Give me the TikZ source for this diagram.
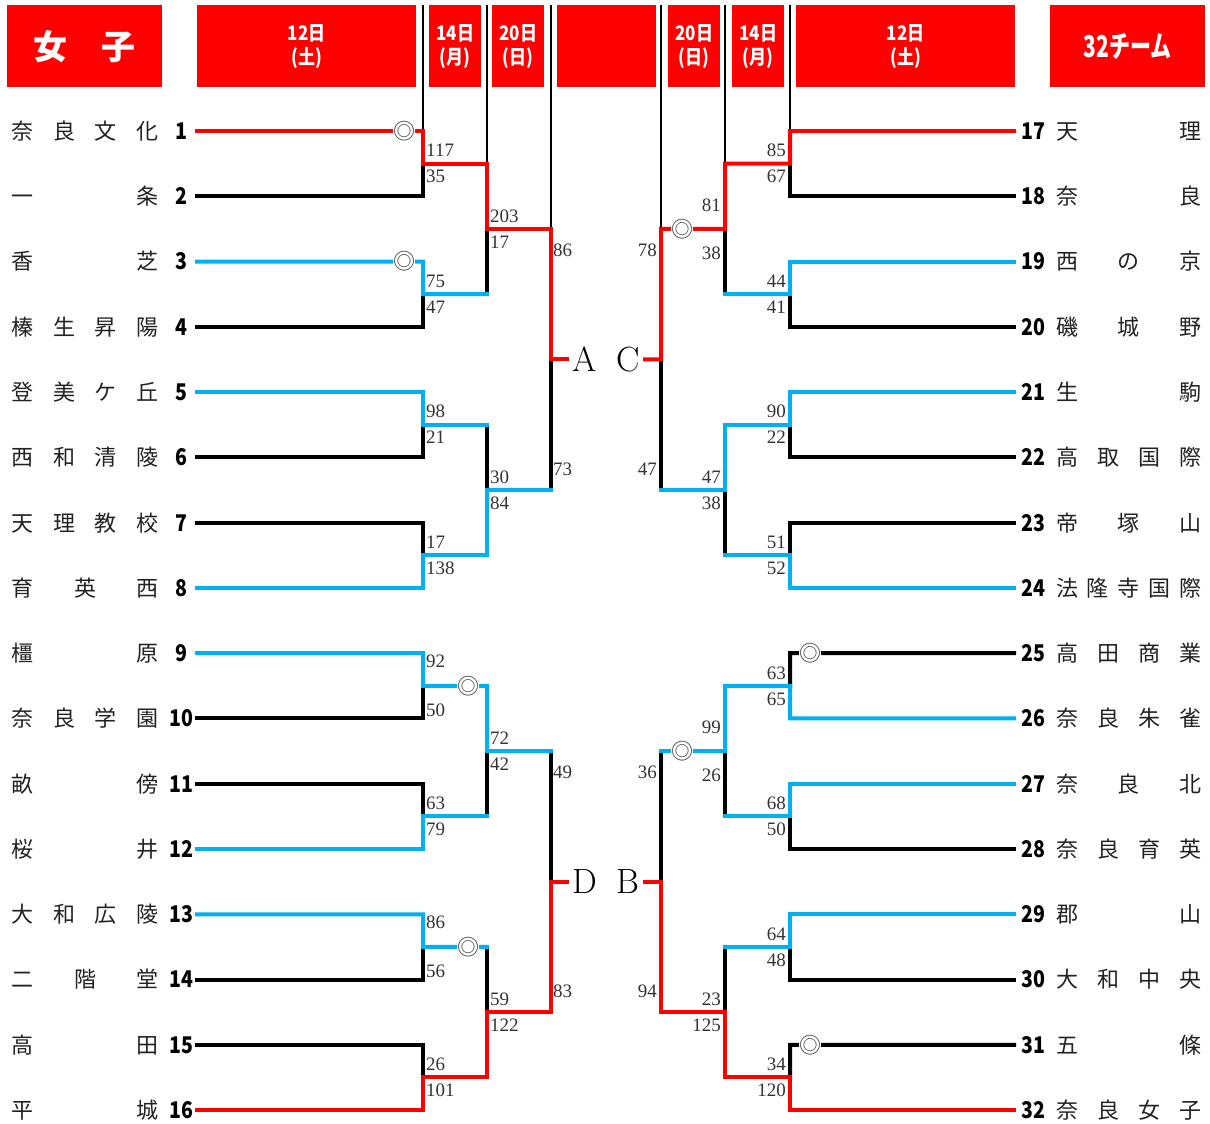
\documentclass[tikz,border=0pt]{standalone}
\usepackage{fontspec}
\newfontfamily\jp{Noto Sans CJK JP}
\newfontfamily\jpb[FakeStretch=0.85]{Noto Sans CJK JP}
\newfontfamily\jpc[FakeStretch=0.7]{Noto Sans CJK JP}
\newfontfamily\scf{Liberation Serif}
\definecolor{redc}{HTML}{FF0000}
\definecolor{cyanc}{HTML}{00B0F0}
\definecolor{scorec}{HTML}{333333}
\definecolor{markc}{HTML}{444444}
\definecolor{namec}{HTML}{222222}
\tikzset{
  br/.style={line width=4pt, line join=miter, line cap=rect},
  bk/.style={br, draw=black},
  cy/.style={br, draw=cyanc},
  rd/.style={br, draw=redc},
  thinln/.style={line width=1.1pt, draw=black},
  hdr/.style={fill=redc, draw=none, anchor=north west, inner sep=0pt, text=white, align=center},
  scL/.style={inner sep=0pt, anchor=west, font=\scf\fontsize{19}{19}\selectfont, text=scorec},
  scR/.style={inner sep=0pt, anchor=east, font=\scf\fontsize{19}{19}\selectfont, text=scorec},
  mk/.style={inner sep=0pt, minimum width=26pt, font=\jp\fontsize{22}{22}\selectfont, text=markc},
  nm/.style={inner sep=0pt, font=\jp\fontsize{22}{22}\selectfont, text=namec, anchor=base},
  num/.style={inner sep=0pt, font=\jpb\bfseries\fontsize{23}{23}\selectfont, anchor=base},
  big/.style={inner sep=0pt, font=\fontsize{35}{35}\selectfont},
}
\newcommand\tmL[3]{%
  \pgfmathsetmacro\yy{131+(#1-1)*65.27+8.4}
  \foreach \c [count=\k] in {#3}{
    \pgfmathsetmacro\xx{23+(\k-1)*124/(#2-1)}
    \node[nm] (nL#1c\k) at (\xx,\yy) {\c};
  }
  \node[num] (numL#1) at (181,\yy) {#1};
}
\newcommand\tmR[4]{%
  \pgfmathsetmacro\yy{131+(#2-1)*65.27+8.4}
  \foreach \c [count=\k] in {#4}{
    \pgfmathsetmacro\xx{1067+(\k-1)*123/(#3-1)}
    \node[nm] (nR#1c\k) at (\xx,\yy) {\c};
  }
  \node[num] (numR#1) at (1033.5,\yy) {#1};
}
\begin{document}
\begin{tikzpicture}[x=1pt,y=-1pt]
\useasboundingbox (0,0) rectangle (1210,1124);
% coordinates
\coordinate (top) at (0,5);
\foreach \i in {1,...,16} \coordinate (r\i) at (0,{131+(\i-1)*65.27});
\foreach \k in {1,...,8} \coordinate (m\k) at (0,{131+(2*\k-1.5)*65.27});
\foreach \k in {1,...,4} \coordinate (n\k) at (0,{131+(4*\k-2.5)*65.27});
\foreach \k in {1,2} \coordinate (p\k) at (0,{131+(8*\k-4.5)*65.27});
\coordinate (a0) at (197,0); \coordinate (a1) at (423,0); \coordinate (a2) at (487,0);
\coordinate (a3) at (551,0); \coordinate (a4) at (567,0);
\coordinate (b0) at (1014,0); \coordinate (b1) at (790,0); \coordinate (b2) at (725,0);
\coordinate (b3) at (661,0); \coordinate (b4) at (645,0);

% header
\node[hdr, minimum width=155pt, minimum height=82pt, font={\jp\bfseries\fontsize{34}{34}\selectfont}] (h1) at (7,5) {女　子};
\node[hdr, minimum width=219pt, minimum height=82pt, font={\jpb\bfseries\fontsize{20}{24}\selectfont}] (h2) at (197,5) {12日\\(土)};
\node[hdr, minimum width=52pt, minimum height=82pt, font={\jpb\bfseries\fontsize{20}{24}\selectfont}] (h3) at (429,5) {14日\\(月)};
\node[hdr, minimum width=52pt, minimum height=82pt, font={\jpb\bfseries\fontsize{20}{24}\selectfont}] (h4) at (492,5) {20日\\(日)};
\node[hdr, minimum width=99pt, minimum height=82pt] (h5) at (557,5) {};
\node[hdr, minimum width=52pt, minimum height=82pt, font={\jpb\bfseries\fontsize{20}{24}\selectfont}] (h6) at (668,5) {20日\\(日)};
\node[hdr, minimum width=52pt, minimum height=82pt, font={\jpb\bfseries\fontsize{20}{24}\selectfont}] (h7) at (732,5) {14日\\(月)};
\node[hdr, minimum width=219pt, minimum height=82pt, font={\jpb\bfseries\fontsize{20}{24}\selectfont}] (h8) at (796,5) {12日\\(土)};
\node[hdr, minimum width=155pt, minimum height=82pt, font={\jpc\bfseries\fontsize{30}{30}\selectfont}] (h9) at (1050,5) {32チーム};

% thin guide lines
\draw[thinln] (a1|-top) -- (a1|-r1);
\draw[thinln] (a2|-top) -- (a2|-m1);
\draw[thinln] (a3|-top) -- (a3|-n1);
\draw[thinln] (b3|-top) -- (b3|-n1);
\draw[thinln] (b2|-top) -- (b2|-m1);
\draw[thinln] (b1|-top) -- (b1|-r1);

% marks
\node[mk] (oL1) at (404,131) {◎};
\node[mk] (oL3) at (404,261.54) {◎};
\node[mk] (oL9) at (468,685.8) {◎};
\node[mk] (oL13) at (468,946.9) {◎};
\node[mk] (oR1) at (682,228.9) {◎};
\node[mk] (oR3) at (682,751.1) {◎};
\node[mk] (oR25) at (810,653.16) {◎};
\node[mk] (oR31) at (810,1044.78) {◎};

% ===== black =====
\draw[bk] (a0|-r2) -- (a1|-r2) -- (a1|-m1);
\draw[bk] (a0|-r4) -- (a1|-r4) -- (a1|-m2);
\draw[bk] (a0|-r6) -- (a1|-r6) -- (a1|-m3);
\draw[bk] (a0|-r7) -- (a1|-r7) -- (a1|-m4);
\draw[bk] (a2|-m2) -- (a2|-n1);
\draw[bk] (a2|-m3) -- (a2|-n2);
\draw[bk] (a3|-n2) -- (a3|-p1);
\draw[bk] (a0|-r10) -- (a1|-r10) -- (a1|-m5);
\draw[bk] (a0|-r11) -- (a1|-r11) -- (a1|-m6);
\draw[bk] (a0|-r14) -- (a1|-r14) -- (a1|-m7);
\draw[bk] (a0|-r15) -- (a1|-r15) -- (a1|-m8);
\draw[bk] (a2|-m6) -- (a2|-n3);
\draw[bk] (a2|-m7) -- (a2|-n4);
\draw[bk] (a3|-n3) -- (a3|-p2);
\draw[bk] (b0|-r2) -- (b1|-r2) -- (b1|-m1);
\draw[bk] (b0|-r4) -- (b1|-r4) -- (b1|-m2);
\draw[bk] (b0|-r6) -- (b1|-r6) -- (b1|-m3);
\draw[bk] (b0|-r7) -- (b1|-r7) -- (b1|-m4);
\draw[bk] (b2|-m2) -- (b2|-n1);
\draw[bk] (b2|-m4) -- (b2|-n2);
\draw[bk] (b3|-n2) -- (b3|-p1);
\draw[bk] (b0|-r9) -- (oR25.east);
\draw[bk] (oR25.west) -- (b1|-r9) -- (b1|-m5);
\draw[bk] (b0|-r12) -- (b1|-r12) -- (b1|-m6);
\draw[bk] (b0|-r14) -- (b1|-r14) -- (b1|-m7);
\draw[bk] (b0|-r15) -- (oR31.east);
\draw[bk] (oR31.west) -- (b1|-r15) -- (b1|-m8);
\draw[bk] (b2|-m6) -- (b2|-n3);
\draw[bk] (b2|-m7) -- (b2|-n4);
\draw[bk] (b3|-n3) -- (b3|-p2);

% ===== cyan =====
\draw[cy] (a0|-r3) -- (oL3.west);
\draw[cy] (oL3.east) -- (a1|-r3) -- (a1|-m2) -- (a2|-m2);
\draw[cy] (a0|-r5) -- (a1|-r5) -- (a1|-m3) -- (a2|-m3);
\draw[cy] (a0|-r8) -- (a1|-r8) -- (a1|-m4) -- (a2|-m4) -- (a2|-n2) -- (a3|-n2);
\draw[cy] (a0|-r9) -- (a1|-r9) -- (a1|-m5) -- (oL9.west);
\draw[cy] (oL9.east) -- (a2|-m5) -- (a2|-n3) -- (a3|-n3);
\draw[cy] (a0|-r12) -- (a1|-r12) -- (a1|-m6) -- (a2|-m6);
\draw[cy] (a0|-r13) -- (a1|-r13) -- (a1|-m7) -- (oL13.west);
\draw[cy] (oL13.east) -- (a2|-m7);
\draw[cy] (b0|-r3) -- (b1|-r3) -- (b1|-m2) -- (b2|-m2);
\draw[cy] (b0|-r5) -- (b1|-r5) -- (b1|-m3) -- (b2|-m3) -- (b2|-n2) -- (b3|-n2);
\draw[cy] (b0|-r8) -- (b1|-r8) -- (b1|-m4) -- (b2|-m4);
\draw[cy] (b0|-r10) -- (b1|-r10) -- (b1|-m5) -- (b2|-m5) -- (b2|-n3) -- (oR3.east);
\draw[cy] (oR3.west) -- (b3|-n3);
\draw[cy] (b0|-r11) -- (b1|-r11) -- (b1|-m6) -- (b2|-m6);
\draw[cy] (b0|-r13) -- (b1|-r13) -- (b1|-m7) -- (b2|-m7);

% ===== red =====
\draw[rd] (a0|-r1) -- (oL1.west);
\draw[rd] (oL1.east) -- (a1|-r1) -- (a1|-m1) -- (a2|-m1) -- (a2|-n1) -- (a3|-n1) -- (a3|-p1) -- (a4|-p1);
\draw[rd] (a0|-r16) -- (a1|-r16) -- (a1|-m8) -- (a2|-m8) -- (a2|-n4) -- (a3|-n4) -- (a3|-p2) -- (a4|-p2);
\draw[rd] (b0|-r1) -- (b1|-r1) -- (b1|-m1) -- (b2|-m1) -- (b2|-n1) -- (oR1.east);
\draw[rd] (oR1.west) -- (b3|-n1) -- (b3|-p1) -- (b4|-p1);
\draw[rd] (b0|-r16) -- (b1|-r16) -- (b1|-m8) -- (b2|-m8) -- (b2|-n4) -- (b3|-n4) -- (b3|-p2) -- (b4|-p2);

% block letters
\node[big] (lA) at (585,359.4) {A};
\node[big] (lC) at (628,359.4) {C};
\node[big] (lD) at (585,881.6) {D};
\node[big] (lB) at (628,881.6) {B};

% scores left
\foreach \x/\y/\t [count=\k] in {
  426/150.6/117, 426/176.6/35, 426/281.2/75, 426/307.2/47,
  426/411.7/98, 426/437.7/21, 426/542.3/17, 426/568.3/138,
  426/661/92, 426/710/50, 426/803.3/63, 426/829.3/79,
  426/922/86, 426/971/56, 426/1064.4/26, 426/1090.4/101,
  490/216/203, 490/242/17, 490/477/30, 490/503/84,
  490/738/72, 490/764/42, 490/999/59, 490/1025/122,
  553/250/86, 553/469.5/73, 553/772/49, 553/991/83}
  \node[scL] (sL\k) at (\x,\y) {\t};
% scores right
\foreach \x/\y/\t [count=\k] in {
  786/150.6/85, 786/176.6/67, 786/281.2/44, 786/307.2/41,
  786/411.7/90, 786/437.7/22, 786/542.3/51, 786/568.3/52,
  786/672.8/63, 786/698.8/65, 786/803.3/68, 786/829.3/50,
  786/933.9/64, 786/959.9/48, 786/1064.4/34, 786/1090.4/120,
  721/205/81, 721/253/38, 721/477/47, 721/503/38,
  721/727/99, 721/775/26, 721/999/23, 721/1025/125,
  657/250/78, 657/469.5/47, 657/772/36, 657/991/94}
  \node[scR] (sR\k) at (\x,\y) {\t};

% teams left
\tmL{1}{4}{奈,良,文,化}
\tmL{2}{2}{一,条}
\tmL{3}{2}{香,芝}
\tmL{4}{4}{榛,生,昇,陽}
\tmL{5}{4}{登,美,ケ,丘}
\tmL{6}{4}{西,和,清,陵}
\tmL{7}{4}{天,理,教,校}
\tmL{8}{3}{育,英,西}
\tmL{9}{2}{橿,原}
\tmL{10}{4}{奈,良,学,園}
\tmL{11}{2}{畝,傍}
\tmL{12}{2}{桜,井}
\tmL{13}{4}{大,和,広,陵}
\tmL{14}{3}{二,階,堂}
\tmL{15}{2}{高,田}
\tmL{16}{2}{平,城}
% teams right
\tmR{17}{1}{2}{天,理}
\tmR{18}{2}{2}{奈,良}
\tmR{19}{3}{3}{西,の,京}
\tmR{20}{4}{3}{磯,城,野}
\tmR{21}{5}{2}{生,駒}
\tmR{22}{6}{4}{高,取,国,際}
\tmR{23}{7}{3}{帝,塚,山}
\tmR{24}{8}{5}{法,隆,寺,国,際}
\tmR{25}{9}{4}{高,田,商,業}
\tmR{26}{10}{4}{奈,良,朱,雀}
\tmR{27}{11}{3}{奈,良,北}
\tmR{28}{12}{4}{奈,良,育,英}
\tmR{29}{13}{2}{郡,山}
\tmR{30}{14}{4}{大,和,中,央}
\tmR{31}{15}{2}{五,條}
\tmR{32}{16}{4}{奈,良,女,子}
\end{tikzpicture}
\end{document}
